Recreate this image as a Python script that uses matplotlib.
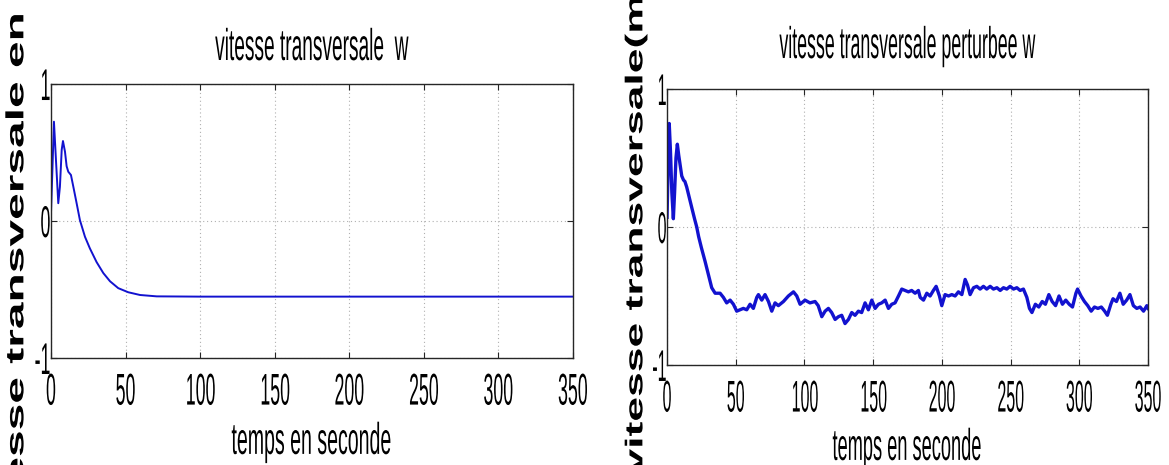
import matplotlib
matplotlib.use('Agg')
import matplotlib.pyplot as plt
import matplotlib.patheffects as pe
from matplotlib.transforms import Affine2D

# vitesse transversale w (sans perturbation)
t_w = [0, 0.45, 2.0, 3.35, 4.9, 6.0, 7.2, 8.05, 9.4, 10.5, 11.6, 13.4, 15, 17.2,
       19.4, 22.8, 26.1, 30.6, 35.1, 39.6, 45.1, 51.8, 59.7, 70.9, 100, 150,
       200, 250, 300, 350]
w = [0.056, 0.20, 0.725, 0.445, 0.13, 0.25, 0.52, 0.584, 0.506, 0.40, 0.36,
     0.336, 0.25, 0.13, 0.007, -0.115, -0.20, -0.30, -0.38, -0.44, -0.49,
     -0.52, -0.54, -0.55, -0.552, -0.552, -0.552, -0.552, -0.552, -0.552]

# vitesse transversale perturbee w
t_wp = [0, 0.8, 1.6, 2.5, 3.5, 4.6, 5.5, 6.5, 7.5, 8.5, 9.5, 10.7, 12, 13, 14.3,
        16, 18, 20, 21.6, 23, 25, 27.7, 30, 32.5, 35, 38.6, 41, 43.4, 45.9,
        48.3, 50.7, 53.1, 55.5, 58, 60.4, 62.8, 65.3, 66.5, 68.9, 71.3, 73.8,
        76.2, 78.6, 81, 84.7, 88.3, 92, 94.4, 96.8, 100.4, 104, 107.7, 110,
        112.6, 115, 117.4, 119.8, 122.3, 124.7, 127.1, 129.5, 132, 134.4,
        136.8, 139.2, 141.6, 144.1, 146.5, 149, 151.4, 153.8, 156.2, 158.7,
        161.1, 163.5, 165.9, 168.4, 170.8, 173.2, 175.6, 178, 180.5, 182.9,
        184.2, 186.6, 189, 191.4, 193.8, 195.8, 198.2, 199.9, 202.3, 204.8,
        207.2, 209.6, 212, 214.5, 216.9, 218.6, 220.5, 223, 225.4, 227.8,
        230.2, 232.6, 235.1, 237.5, 240, 242.4, 244.8, 247.2, 249.6, 252.1,
        254.5, 256.9, 259.3, 261.8, 263.7, 265.5, 268, 270.5, 273, 275.3,
        277.8, 280.2, 282.7, 285.2, 287.7, 290.1, 292.6, 295, 297.5, 298.7,
        301.2, 303.7, 306.1, 308.6, 311, 313.5, 316, 318.4, 320.4, 322.9,
        324.5, 327, 329.5, 331.9, 334.4, 336.8, 339.3, 341.8, 344.2, 346.7,
        349.1, 350]
wp = [0.07, 0.45, 0.75, 0.55, 0.25, 0.06, 0.25, 0.50, 0.60, 0.52, 0.45, 0.37,
      0.34, 0.33, 0.29, 0.22, 0.14, 0.06, 0.0, -0.07, -0.15, -0.25, -0.34,
      -0.44, -0.48, -0.48, -0.51, -0.55, -0.53, -0.56, -0.61, -0.60, -0.59,
      -0.60, -0.56, -0.59, -0.51, -0.49, -0.53, -0.49, -0.54, -0.61, -0.55,
      -0.57, -0.54, -0.50, -0.47, -0.50, -0.56, -0.53, -0.55, -0.54, -0.57,
      -0.65, -0.61, -0.59, -0.62, -0.67, -0.65, -0.64, -0.70, -0.67, -0.62,
      -0.64, -0.61, -0.62, -0.55, -0.60, -0.53, -0.59, -0.56, -0.55, -0.53,
      -0.59, -0.56, -0.55, -0.50, -0.45, -0.46, -0.47, -0.46, -0.48, -0.46,
      -0.51, -0.53, -0.48, -0.50, -0.46, -0.43, -0.50, -0.57, -0.49, -0.50,
      -0.49, -0.50, -0.47, -0.49, -0.38, -0.42, -0.49, -0.44, -0.43, -0.45,
      -0.43, -0.45, -0.43, -0.45, -0.44, -0.46, -0.44, -0.45, -0.43, -0.45,
      -0.44, -0.46, -0.45, -0.51, -0.59, -0.62, -0.56, -0.58, -0.54, -0.56,
      -0.49, -0.54, -0.57, -0.50, -0.56, -0.53, -0.56, -0.58, -0.48, -0.45,
      -0.50, -0.54, -0.57, -0.61, -0.58, -0.59, -0.58, -0.61, -0.64, -0.56,
      -0.52, -0.54, -0.48, -0.56, -0.53, -0.49, -0.57, -0.59, -0.58, -0.61,
      -0.57, -0.59]

xticks = [0, 50, 100, 150, 200, 250, 300, 350]
yticks = [-1, 0, 1]
ytick_labels = ['-1', '0', '1']


class Squeeze(pe.AbstractPathEffect):
    """Draw text narrower (the reference picture is squashed horizontally)."""

    def __init__(self, sx, xref=None):
        super().__init__()
        self.sx = sx
        self.xref = xref

    def draw_path(self, renderer, gc, tpath, affine, rgbFace=None):
        if self.xref is None:
            ext = tpath.get_extents(affine)
            x0 = 0.5 * (ext.x0 + ext.x1)
        else:
            tr, xv = self.xref
            x0 = tr.transform((xv, 0))[0]
        aff = affine + Affine2D().translate(-x0, 0).scale(self.sx, 1).translate(x0, 0)
        renderer.draw_path(gc, tpath, aff, rgbFace)


plt.rcParams['font.family'] = 'Liberation Sans'

fig = plt.figure(figsize=(11.69, 4.65), dpi=100)
ax1 = fig.add_axes([0.0436, 0.2301, 0.4465, 0.5892])
ax2 = fig.add_axes([0.5706, 0.2151, 0.4115, 0.5935])

panels = [
    (ax1, t_w, w, 1.4, 'vitesse transversale  w', 17.3,
     'vitesse transversale en m/s', 34.5, 0.52, -0.0613, 0.474, -0.350, 0.40, 0.43),
    (ax2, t_wp, wp, 2.4, 'vitesse transversale perturbee w', 22.3,
     'vitesse transversale(m/s)', 32, 0.55, -0.0644, 0.57, -0.344, 0.36, 0.40),
]

for (ax, t, v, lw, title, tpad, ylab, ylsize, ylsq, ylx, yly, xly,
     sq_tick, sq_txt) in panels:
    ax.plot(t, v, color='#1212cf', lw=lw)
    ax.set_xlim(0, 350)
    ax.set_ylim(-1, 1)
    ax.set_xticks(xticks)
    ax.set_xticklabels([str(x) for x in xticks])
    ax.set_yticks(yticks)
    ax.set_yticklabels(ytick_labels)
    ax.grid(True, color='#b0b0b0', linestyle=(0, (1, 2.5)), lw=0.8)
    ax.tick_params(direction='in', length=4.5, width=0.8, top=True, right=True,
                   labelsize=32, color='0.15')
    ax.tick_params(axis='x', pad=10.5)
    ax.tick_params(axis='y', pad=1)
    for s in ax.spines.values():
        s.set_color('0.15')
        s.set_linewidth(1.0)

    for lab in ax.get_xticklabels():
        lab.set_path_effects([Squeeze(sq_tick)])
    for lab in ax.get_yticklabels():
        lab.set_path_effects([Squeeze(sq_tick, xref=(ax.transAxes, 0.0))])

    ttl = ax.set_title(title, fontsize=32, pad=tpad)
    ttl.set_path_effects([Squeeze(sq_txt)])

    xl = ax.set_xlabel('temps en seconde', fontsize=32)
    xl.set_va('baseline')
    ax.xaxis.set_label_coords(0.5, xly)
    xl.set_path_effects([Squeeze(sq_txt + 0.01)])

    yl = ax.set_ylabel(ylab, fontsize=ylsize, fontweight='bold')
    yl.set_va('center')
    ax.yaxis.set_label_coords(ylx, yly)
    yl.set_path_effects([Squeeze(ylsq)])

fig.savefig('out.png', dpi=100)
plt.close(fig)
